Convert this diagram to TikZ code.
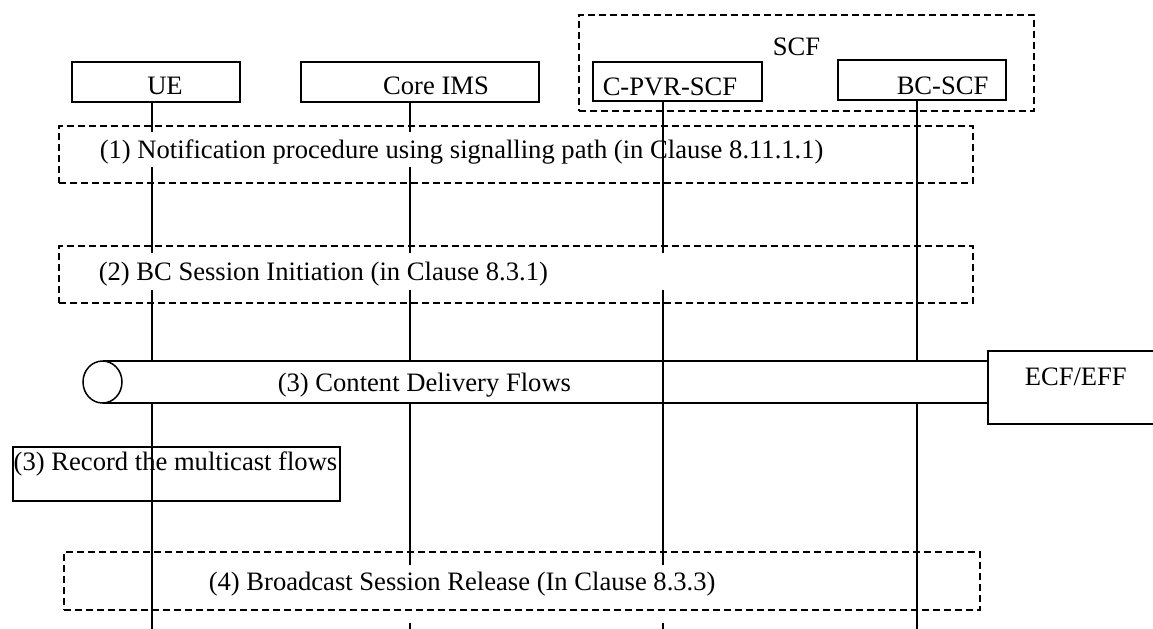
\documentclass[tikz,border=0pt]{standalone}
\usepackage{fontspec}
\setmainfont{Liberation Serif}
\begin{document}
\begin{tikzpicture}[x=0.5pt,y=-0.5pt,
  font=\fontsize{13.3pt}{16pt}\selectfont,
  line width=0.75pt,
  solidbox/.style={draw, rectangle, inner sep=0pt, anchor=north west},
  dashbox/.style={draw, rectangle, inner sep=0pt, anchor=north west, dash pattern=on 3.5pt off 2pt},
  lbl/.style={inner sep=0pt, anchor=base west},
  gaptext/.style={inner sep=1pt, anchor=base west, fill=white},
  lifeline/.style={line width=0.75pt}]
\useasboundingbox (0,0) rectangle (1153,628);
\fill[white] (0,0) rectangle (1153,628);
\clip (0,0) rectangle (1153,628);

% lifeline end points
\coordinate (ue-top) at (152,103);   \coordinate (ue-bot) at (152,640);
\coordinate (ims-top) at (410,103);  \coordinate (ims-bot) at (410,640);
\coordinate (pvr-top) at (663,102);  \coordinate (pvr-bot) at (663,640);
\coordinate (bc-top) at (917,101);   \coordinate (bc-bot) at (917,640);

% lifelines interrupted by box 1 text and the tube
\draw[lifeline] (ue-top) -- (ue-bot);
\draw[lifeline] (ims-top) -- (ims-bot);
\draw[lifeline] (bc-top) -- (bc-bot);

% box 1 text (white background hides lifelines)
\node[gaptext, text height=12pt, text depth=3.5pt] (t1) at (97,158)
  {(1) Notification procedure using signalling path (in Clause 8.11.1.1)};

% tube (content delivery flows)
\coordinate (tube-tl) at (102.5,361);
\coordinate (tube-br) at (987,403);
\fill[white] (tube-tl) rectangle (tube-br);
\draw (tube-tl) -- (987,361);
\draw (102.5,403) -- (tube-br);
\draw[fill=white] (102.5,382) ellipse [x radius=9.75pt, y radius=10.5pt];
\node[lbl] (t3) at (277,391) {(3) Content Delivery Flows};

% C-PVR-SCF lifeline passes over box 1 text and the tube
\draw[lifeline] (pvr-top) -- (pvr-bot);

% box 2 text (covers UE, Core IMS, C-PVR-SCF lifelines)
\node[gaptext, text height=12.5pt, text depth=4pt] (t2) at (96,280)
  {\makebox[295pt][l]{(2) BC Session Initiation (in Clause 8.3.1)}};

% box 4 text (covers Core IMS and C-PVR-SCF lifelines)
\node[gaptext, text height=11.5pt, text depth=15.5pt] (t4) at (206,590)
  {\makebox[262pt][l]{(4) Broadcast Session Release (In Clause 8.3.3)}};

% dashed boxes
\node[dashbox, minimum width=457pt, minimum height=28.5pt] (b1) at (58,125) {};
\node[dashbox, minimum width=457pt, minimum height=28.5pt] (b2) at (58,245) {};
\node[dashbox, minimum width=458pt, minimum height=29pt] (b4) at (63,551) {};
\node[dashbox, minimum width=227.5pt, minimum height=48pt] (scf) at (578,14) {};
\node[lbl] (scf-t) at (772,55) {SCF};

% entity boxes
\node[solidbox, minimum width=84pt, minimum height=20pt] (ue) at (71,61) {};
\node[anchor=base, inner sep=0pt] (ue-t) at (165,94) {UE};
\node[solidbox, minimum width=119pt, minimum height=20pt] (ims) at (300,61) {};
\node[anchor=base, inner sep=0pt] (ims-t) at (436,94) {Core IMS};
\node[solidbox, minimum width=84.5pt, minimum height=19.5pt] (pvr) at (592,61) {};
\node[lbl] (pvr-t) at (602,95) {C-PVR-SCF};
\node[solidbox, minimum width=84pt, minimum height=20pt] (bc) at (837,59) {};
\node[lbl] (bc-t) at (896,94) {BC-SCF};

% ECF/EFF box
\node[solidbox, fill=white, minimum width=90pt, minimum height=36.5pt] (ecf) at (987,350) {};
\node[lbl] (ecf-t) at (1024,385) {ECF/EFF};

% record box
\node[solidbox, minimum width=163.5pt, minimum height=27pt] (rec) at (12,446) {};
\node[lbl] (rec-t) at (13,470) {(3) Record the multicast flows};
\end{tikzpicture}
\end{document}
